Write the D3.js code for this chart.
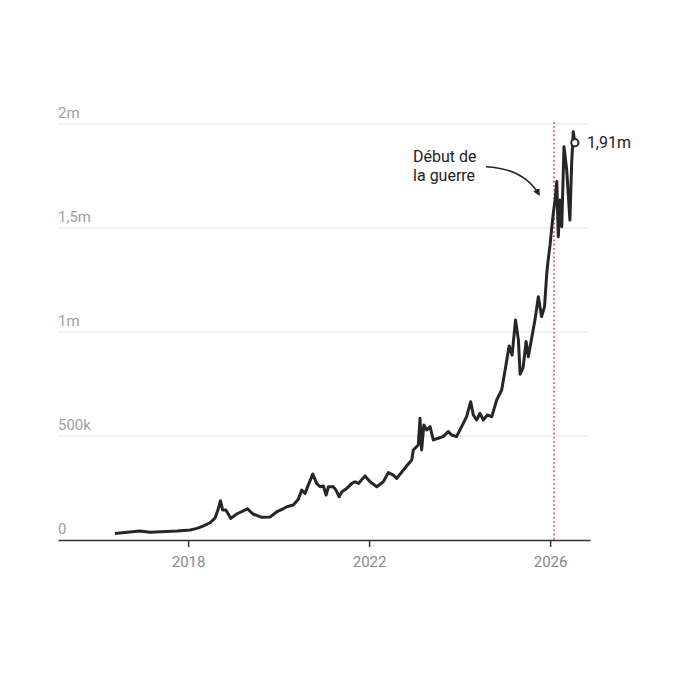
<!DOCTYPE html>
<html>
<head>
<meta charset="utf-8">
<script src="https://cdn.jsdelivr.net/npm/d3@7"></script>
<style>
  body { margin: 0; background: #fff; }
  svg { font-family: Roboto, "Noto Sans", sans-serif; }
</style>
</head>
<body>
<div id="chart"></div>
<script>
// Dates
var dates = [
    "2016-05-20", "2016-12-08", "2017-02-28", "2017-10-04", "2018-01-17", "2018-03-14",
    "2018-05-01", "2018-06-27", "2018-08-06", "2018-08-30", "2018-09-19", "2018-10-07",
    "2018-11-02", "2018-12-12", "2019-01-28", "2019-04-25", "2019-06-09", "2019-08-20",
    "2019-10-24", "2019-12-19", "2020-02-08",
    "2020-03-08", "2020-04-29", "2020-06-09", "2020-07-06", "2020-08-02", "2020-08-28",
    "2020-10-03", "2020-11-04", "2020-12-01", "2020-12-28", "2021-01-19", "2021-02-07",
    "2021-03-18", "2021-04-09", "2021-05-04", "2021-05-26", "2021-07-05", "2021-08-15",
    "2021-09-10", "2021-10-07", "2021-11-29", "2022-01-09", "2022-03-04", "2022-04-26",
    "2022-06-05", "2022-07-15", "2022-08-12", "2022-11-01", "2022-12-11", "2022-12-24",
    "2023-02-02", "2023-02-16", "2023-03-01", "2023-03-19", "2023-04-11", "2023-05-08",
    "2023-06-03", "2023-07-13", "2023-08-22", "2023-10-02", "2023-10-29", "2023-12-08",
    "2024-01-18", "2024-02-27", "2024-03-31", "2024-04-21", "2024-05-18", "2024-06-14",
    "2024-07-11", "2024-08-12", "2024-09-17", "2024-10-27", "2024-12-06",
    "2025-01-03", "2025-02-04", "2025-02-28", "2025-03-28", "2025-04-20", "2025-05-04",
    "2025-05-28", "2025-06-21", "2025-07-09", "2025-09-02", "2025-09-28", "2025-10-24",
    "2025-11-17", "2025-12-05", "2025-12-17", "2026-01-01", "2026-01-15", "2026-01-27",
    "2026-02-10", "2026-02-24", "2026-03-08", "2026-03-22", "2026-04-05", "2026-04-23",
    "2026-05-15", "2026-06-10", "2026-06-24", "2026-07-07", "2026-07-20"
];

// Values in thousands
var values = [
    31, 43, 37, 43, 48, 56,
    67, 83, 105, 144, 189, 144,
    144, 104, 125, 150, 125, 109,
    110, 136, 150,
    160, 168, 196, 240, 224, 264,
    317, 272, 256, 260, 216, 256,
    256, 240, 208, 232, 248, 272,
    280, 272, 308, 280, 256, 280,
    324, 312, 296, 357, 385, 433,
    457, 585, 433, 553, 529, 545,
    481, 489, 497, 521, 505, 497,
    545, 593, 665, 601, 577, 609,
    577, 601, 593, 673, 721,
    817, 933, 889, 1058, 962, 797,
    829, 954, 881, 1062, 1170, 1074,
    1122, 1282, 1350, 1420, 1506, 1571,
    1635, 1723, 1458, 1635, 1506, 1891,
    1779, 1538, 1811, 1963, 1910
];

var yTicks = [0, 500, 1000, 1500, 2000];
var yTickLabels = ["0", "500k", "1m", "1,5m", "2m"];
var xTicks = ["2018-01-01", "2022-01-01", "2026-01-01"];
var xTickLabels = ["2018", "2022", "2026"];

var warDate = "2026-02-02";
var warLabel = ["Début de", "la guerre"];
var lastLabel = "1,91m";

function init() {
    var w = 688;
    var h = 688;
    var parse = d3.timeParse("%Y-%m-%d");

    var data = dates.map(function (d, i) {
        return { date: parse(d), value: values[i] };
    });

    var x = d3.scaleTime()
        .domain([parse("2015-02-16"), parse("2026-11-19")])
        .range([58, 590]);

    var y = d3.scaleLinear()
        .domain([0, 2000])
        .range([540, 124]);

    var svg = d3.select("#chart")
        .append("svg")
        .attr("width", w)
        .attr("height", h);

    // Gridlines
    svg.selectAll("line.grid")
        .data(yTicks.slice(1))
        .enter()
        .append("line")
        .attr("class", "grid")
        .attr("x1", 58)
        .attr("x2", 588)
        .attr("y1", function (d) { return y(d); })
        .attr("y2", function (d) { return y(d); })
        .attr("stroke", "#e3e3e3")
        .attr("stroke-width", 1);

    // Y labels
    svg.selectAll("text.ylab")
        .data(yTicks)
        .enter()
        .append("text")
        .attr("class", "ylab")
        .attr("x", 58)
        .attr("y", function (d) { return y(d) - 6; })
        .style("fill", "#a0a0a0")
        .style("font-size", "15px")
        .text(function (d, i) { return yTickLabels[i]; });

    // X axis
    var xAxis = d3.axisBottom(x)
        .tickValues(xTicks.map(parse))
        .tickFormat(function (d, i) { return xTickLabels[i]; })
        .tickSizeInner(7)
        .tickSizeOuter(0)
        .tickPadding(9);

    var gx = svg.append("g")
        .attr("transform", "translate(0," + y(0) + ")")
        .call(xAxis);
    gx.select(".domain").attr("stroke", "#333").attr("stroke-width", 1.5);
    gx.selectAll(".tick line").attr("stroke", "#333").attr("stroke-width", 1.5);
    gx.selectAll(".tick text")
        .style("fill", "#8a8a8a")
        .style("font-size", "15px")
        .style("font-family", "Roboto, sans-serif");

    // War line
    var wx = x(parse(warDate));
    svg.append("line")
        .attr("x1", wx)
        .attr("x2", wx)
        .attr("y1", y(2000) - 2)
        .attr("y2", y(0))
        .attr("stroke", "#c8445e")
        .attr("stroke-width", 1.6)
        .attr("stroke-dasharray", "1.6,2.6");

    // Price line
    var line = d3.line()
        .x(function (d) { return x(d.date); })
        .y(function (d) { return y(d.value); });

    svg.append("path")
        .datum(data)
        .attr("d", line)
        .attr("fill", "none")
        .attr("stroke", "#262626")
        .attr("stroke-width", 3)
        .attr("stroke-linejoin", "round");

    // Last point
    var last = data[data.length - 1];
    svg.append("circle")
        .attr("cx", x(last.date))
        .attr("cy", y(last.value))
        .attr("r", 3.6)
        .attr("fill", "#fff")
        .attr("stroke", "#262626")
        .attr("stroke-width", 2);

    svg.append("text")
        .attr("x", x(last.date) + 12)
        .attr("y", y(last.value) + 5)
        .style("fill", "#222")
        .style("font-size", "16px")
        .text(lastLabel);

    // Annotation
    svg.selectAll("text.ann")
        .data(warLabel)
        .enter()
        .append("text")
        .attr("class", "ann")
        .attr("x", wx - 141)
        .attr("y", function (d, i) { return y(1815) + i * 19; })
        .style("fill", "#222")
        .style("font-size", "16px")
        .text(function (d) { return d; });

    svg.append("defs")
        .append("marker")
        .attr("id", "head")
        .attr("viewBox", "0 0 10 10")
        .attr("refX", 8)
        .attr("refY", 5)
        .attr("markerWidth", 7)
        .attr("markerHeight", 7)
        .attr("markerUnits", "userSpaceOnUse")
        .attr("orient", "auto")
        .append("path")
        .attr("d", "M0,0 L10,5 L0,10 Z")
        .attr("fill", "#222");

    var p = d3.path();
    var sx = wx - 68, sy = y(1795);
    p.moveTo(sx, sy);
    p.quadraticCurveTo(wx - 30, sy + 2, wx - 15, y(1660));
    svg.append("path")
        .attr("d", p.toString())
        .attr("fill", "none")
        .attr("stroke", "#222")
        .attr("stroke-width", 1.5)
        .attr("marker-end", "url(#head)");
}

window.onload = init;
</script>
</body>
</html>
